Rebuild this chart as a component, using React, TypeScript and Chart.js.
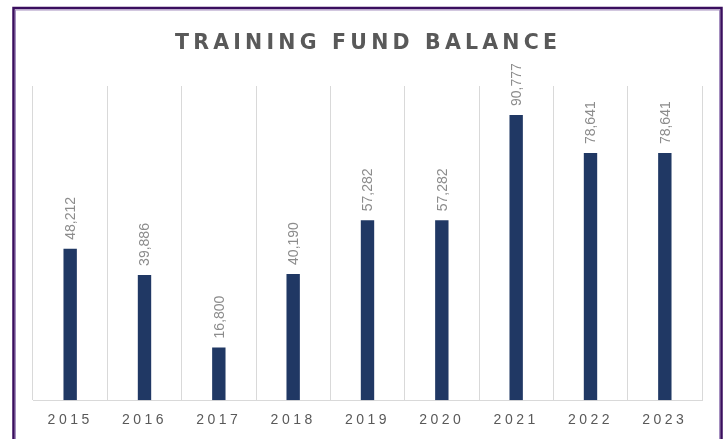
import React, { useEffect, useRef } from "react";
import { Chart, registerables } from "chart.js";

Chart.register(...registerables);

const years = ["2015", "2016", "2017", "2018", "2019", "2020", "2021", "2022", "2023"];
const balances = [48212, 39886, 16800, 40190, 57282, 57282, 90777, 78641, 78641];
const titleText = "TRAINING FUND BALANCE";
const yMax = 100000;

const fmt = (v: number) => v.toLocaleString("en-US");

const decorPlugin = {
  id: "decor",
  beforeDraw(chart: any) {
    chart.ctx.letterSpacing = "3.5px";
  },
  afterDraw(chart: any) {
    const ctx = chart.ctx as CanvasRenderingContext2D;
    ctx.save();
    // title
    const titleLeft = 175;
    const titleWidth = 382;
    ctx.font = "bold 20.5px 'DejaVu Sans', Arial, sans-serif";
    (ctx as any).letterSpacing = "0px";
    const raw = ctx.measureText(titleText).width;
    const sp = (titleWidth - raw) / (titleText.length - 1);
    (ctx as any).letterSpacing = sp + "px";
    ctx.fillStyle = "#595959";
    ctx.textAlign = "left";
    ctx.textBaseline = "alphabetic";
    ctx.fillText(titleText, titleLeft, 48.5);

    // data labels
    (ctx as any).letterSpacing = "0px";
    ctx.font = "14px 'Liberation Sans', Arial, sans-serif";
    ctx.fillStyle = "#8c8c8c";
    const meta = chart.getDatasetMeta(0);
    meta.data.forEach((bar: any, i: number) => {
      ctx.save();
      ctx.translate(bar.x + 1, bar.y - 9);
      ctx.rotate(-Math.PI / 2);
      ctx.textAlign = "left";
      ctx.textBaseline = "middle";
      ctx.fillText(fmt(balances[i]), 0, 0);
      ctx.restore();
    });

    // frame
    ctx.strokeStyle = "#3a0e5e";
    ctx.lineWidth = 2.5;
    ctx.strokeRect(13.5, 8, 708, 460);
    ctx.strokeStyle = "#a58fc0";
    ctx.lineWidth = 1;
    ctx.strokeRect(15.5, 10, 704, 460);
    ctx.restore();
  },
};

export default function App() {
  const ref = useRef<HTMLCanvasElement>(null);
  useEffect(() => {
    const chart = new Chart(ref.current!, {
      type: "bar",
      data: {
        labels: years,
        datasets: [
          {
            data: balances,
            backgroundColor: "#203864",
            borderWidth: 0,
            barPercentage: 0.18,
            categoryPercentage: 1,
          },
        ],
      },
      options: {
        animation: false,
        responsive: false,
        layout: { padding: { left: 33, right: 26, top: 86, bottom: -2 } },
        plugins: { legend: { display: false }, tooltip: { enabled: false }, title: { display: false } },
        scales: {
          x: {
            grid: { offset: true, color: "#d9d9d9", drawTicks: false, lineWidth: 1 },
            border: { color: "#d9d9d9" },
            ticks: {
              color: "#595959",
              padding: 12,
              maxRotation: 0,
              autoSkip: false,
              font: { family: "'Liberation Sans', Arial, sans-serif", size: 14 },
            },
          },
          y: { display: false, min: 0, max: yMax },
        },
      },
      plugins: [decorPlugin],
    });
    return () => chart.destroy();
  }, []);
  return (
    <div style={{ position: "fixed", left: 0, top: 0, width: 728, height: 439, background: "#fff" }}>
      <canvas ref={ref} width={728} height={439} />
    </div>
  );
}
